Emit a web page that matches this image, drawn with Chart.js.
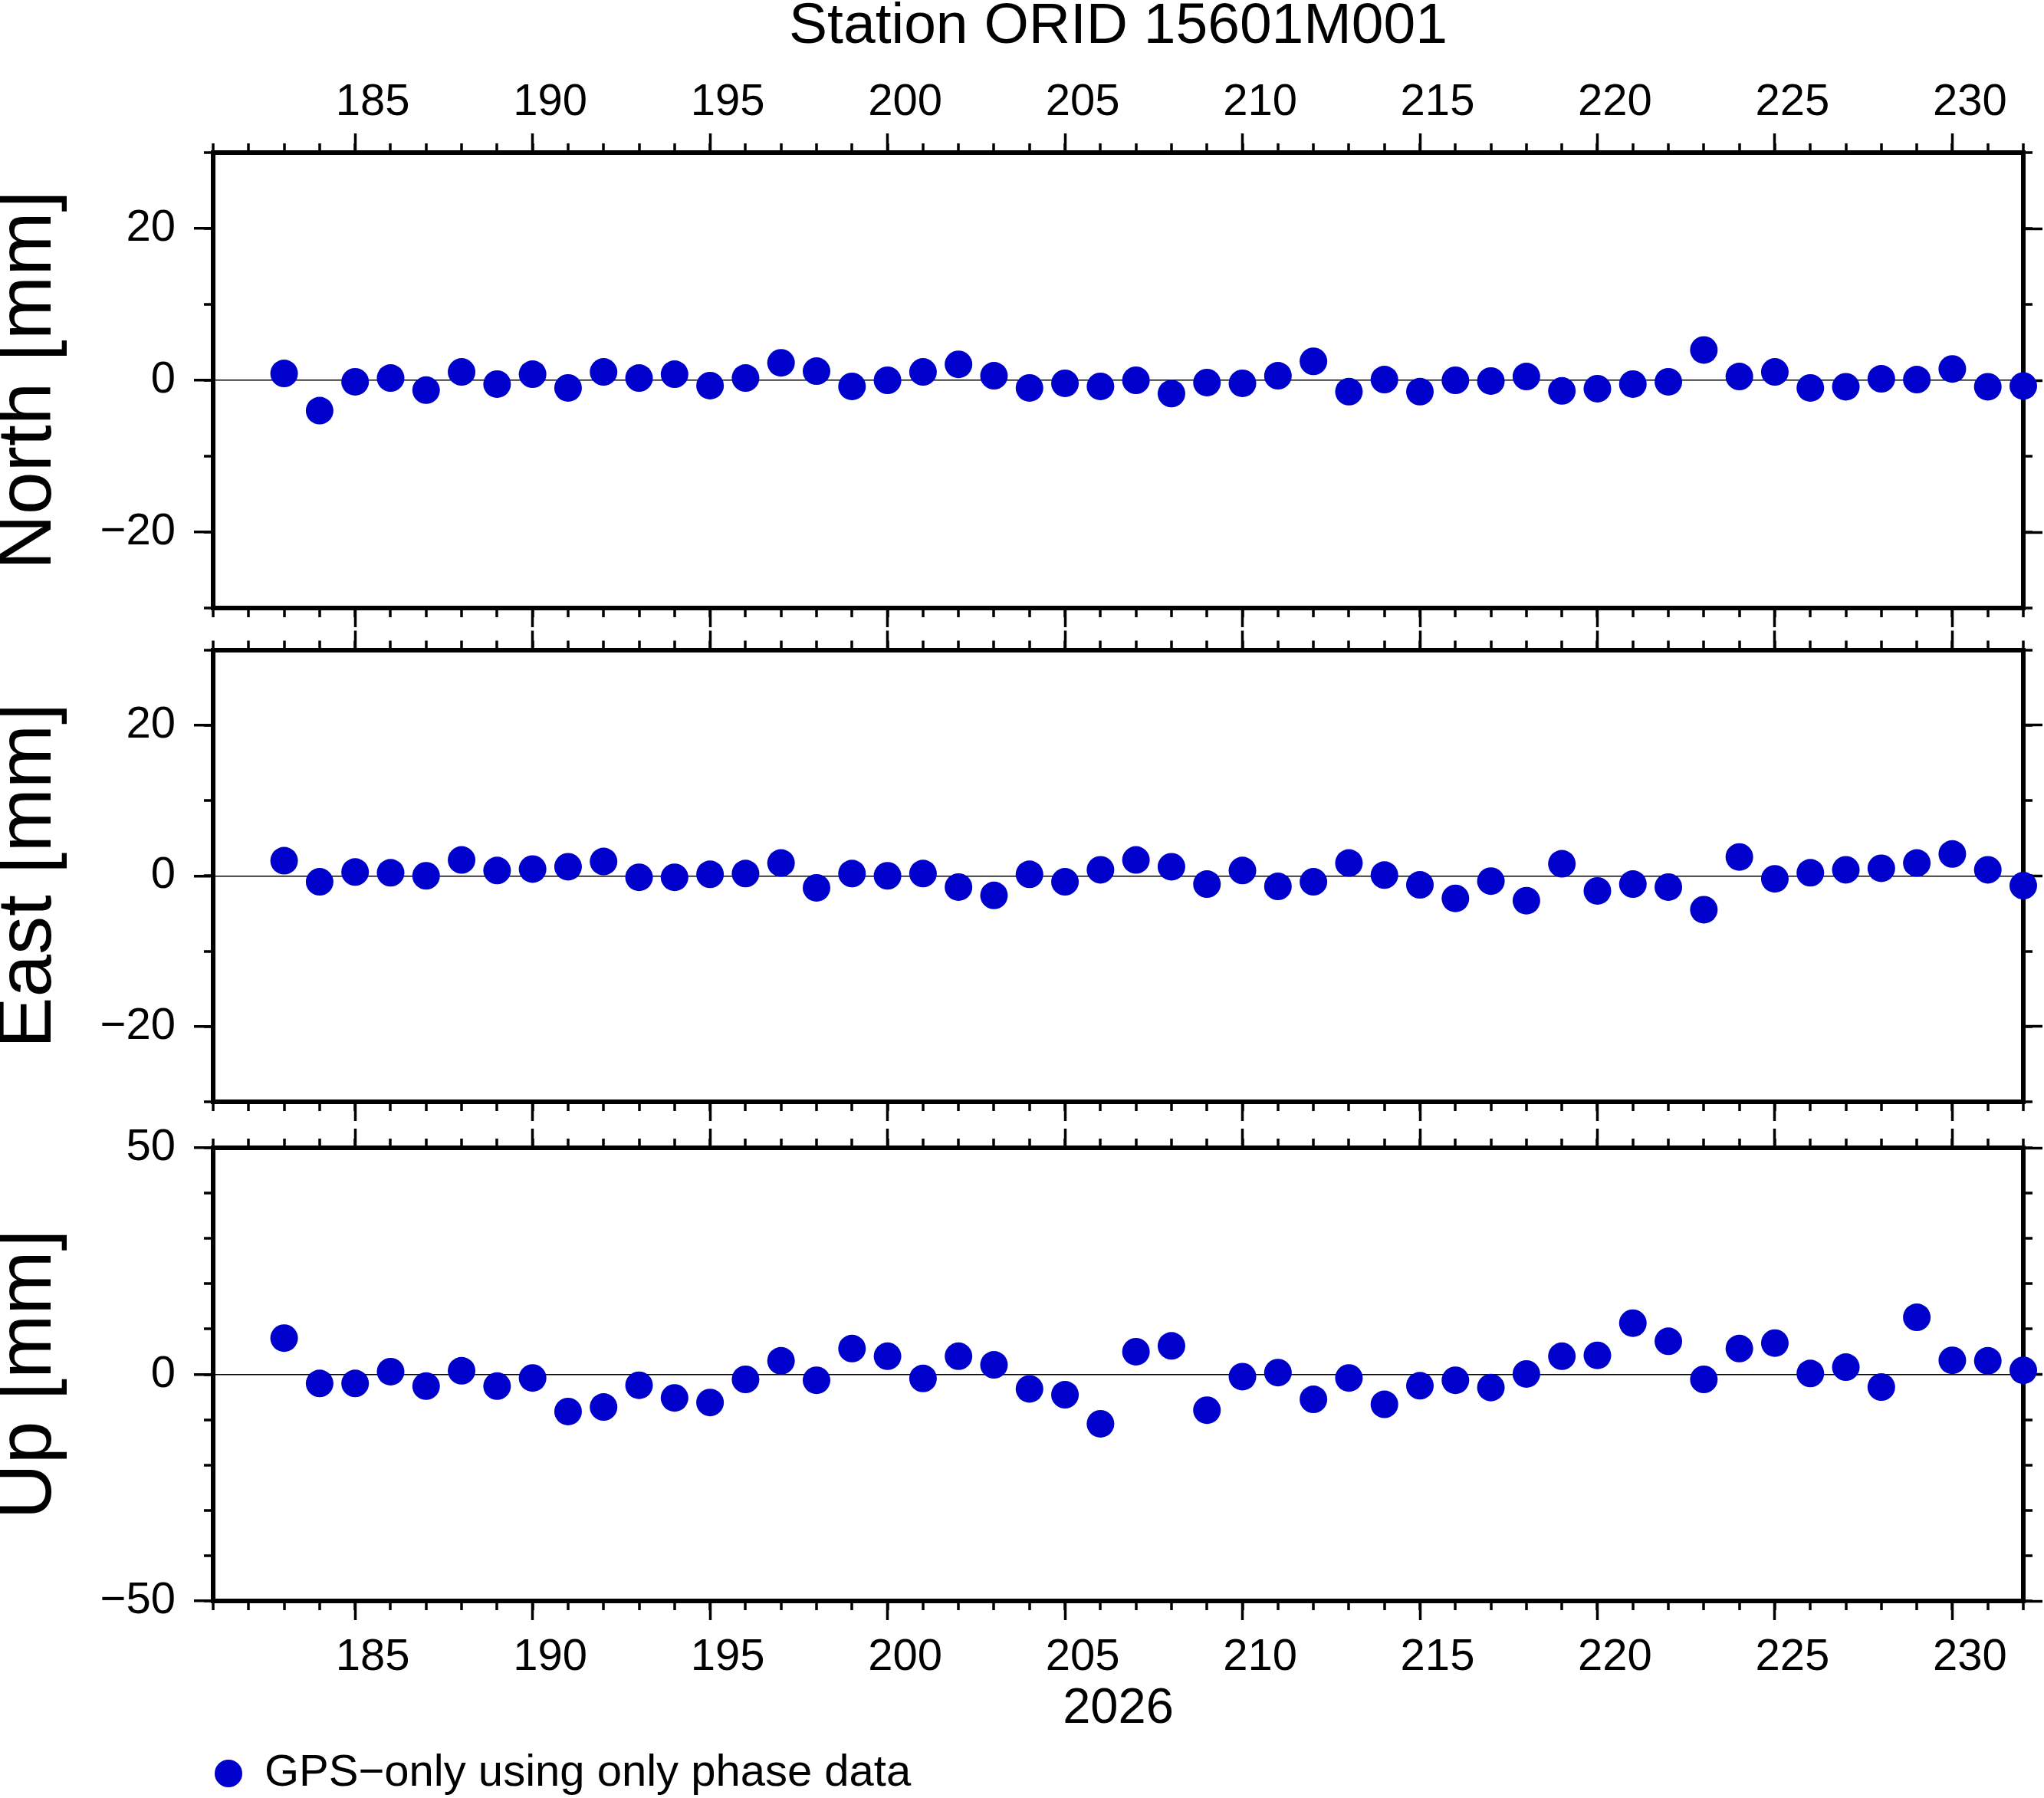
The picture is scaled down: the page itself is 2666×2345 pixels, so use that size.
<!DOCTYPE html>
<html>
<head>
<meta charset="utf-8">
<script src="https://cdn.jsdelivr.net/npm/chart.js@4/dist/chart.umd.min.js"></script>
<style>
  html, body { margin: 0; padding: 0; background: #ffffff; }
  #wrap { position: relative; width: 2666px; height: 2345px; background: #ffffff; overflow: hidden; }
  #wrap canvas { position: absolute; left: 0; top: 0; }
</style>
</head>
<body>
<div id="wrap">
  <canvas id="cNorth" width="2666" height="2345"></canvas>
  <canvas id="cEast" width="2666" height="2345"></canvas>
  <canvas id="cUp" width="2666" height="2345"></canvas>
</div>
<script>
// ---------------- data ----------------
const chartTitle = 'Station ORID 15601M001';
const legendLabel = 'GPS\u2212only using only phase data';
const xAxisTitle = '2026';

const days = [183,184,185,186,187,188,189,190,191,192,193,194,195,196,197,198,199,200,201,202,
              203,204,205,206,207,208,209,210,211,212,213,214,215,216,217,218,219,220,221,222,
              223,224,225,226,227,228,229,230,231,232];

const northValues = [0.9,-4.0,-0.2,0.3,-1.3,1.1,-0.5,0.8,-1.0,1.1,0.3,0.8,-0.7,0.3,2.3,1.2,-0.8,0.0,1.1,2.1,
                     0.6,-1.0,-0.4,-0.8,0.0,-1.75,-0.3,-0.4,0.6,2.5,-1.5,0.1,-1.5,0.0,-0.1,0.5,-1.4,-1.1,-0.5,-0.2,
                     4.0,0.5,1.1,-1.0,-0.85,0.2,0.1,1.5,-0.85,-0.75];

const eastValues = [2.0,-0.8,0.5,0.4,0.0,2.1,0.7,0.9,1.2,1.9,-0.2,-0.2,0.2,0.3,1.7,-1.6,0.3,0.0,0.3,-1.5,
                    -2.6,0.2,-0.8,0.8,2.1,1.2,-1.1,0.7,-1.4,-0.8,1.7,0.1,-1.2,-3.0,-0.7,-3.3,1.6,-2.0,-1.1,-1.5,
                    -4.5,2.5,-0.4,0.4,0.8,1.0,1.7,2.9,0.8,-1.3];

const upValues = [8.0,-2.0,-2.0,0.6,-2.6,0.8,-2.6,-0.8,-8.2,-7.2,-2.4,-5.2,-6.2,-1.1,3.0,-1.3,5.7,4.0,-0.9,4.0,
                  2.1,-3.2,-4.5,-10.9,5.0,6.3,-7.9,-0.5,0.4,-5.5,-0.8,-6.6,-2.5,-1.3,-2.9,0.1,4.0,4.2,11.3,7.3,
                  -1.1,5.7,6.9,0.2,1.6,-2.8,12.6,3.1,3.0,0.9];

const xMin = 181, xMax = 232;
const xMajorTicks = [185,190,195,200,205,210,215,220,225,230];

const neMajorTicks = [-20, 0, 20];
const neMinorTicks = [-30, -20, -10, 0, 10, 20, 30];
const upMajorTicks = [-50, 0, 50];
const upMinorTicks = [-50, -40, -30, -20, -10, 0, 10, 20, 30, 40, 50];

// ---------------- style ----------------
const FONT = "'Liberation Sans', Arial, Helvetica, sans-serif";
const DOT = '#0000cc';
const INK = '#000000';
const FRAME_W = 6;
const TICK_W = 3.5;
const MAJOR_LEN = 25;
const MINOR_LEN = 12;
const CANVAS_H = 2345;
const CANVAS_W = 2666;
const AREA_LEFT = 278;
const AREA_RIGHT = 2639;
const TITLE_SIZE = 75, TITLE_LH = 0.8, TITLE_PAD_TOP = 5;
const LEGEND_MAXH = 63;
const LEGEND_FONT = 58;
const X_LABEL_SHIFT = 23;   // labels sit in the middle of the day interval

function fmt(v) { return v < 0 ? '\u2212' + Math.abs(v) : String(v); }
function setTicks(arr) { return function (s) { s.ticks = arr.map(function (v) { return { value: v }; }); }; }
function fixW(w) { return function (s) { s.width = w; }; }
function fixH(h) { return function (s) { s.height = h; }; }

function panel(cfg) {
  const points = days.map(function (d, i) { return { x: d, y: cfg.values[i] }; });
  const titleH = cfg.showTitle ? TITLE_SIZE * TITLE_LH + TITLE_PAD_TOP : 0;
  const legendH = cfg.showLegend ? LEGEND_MAXH : 0;
  const tickFont = { family: FONT, size: 58 };

  const scales = {
    xt: {
      type: 'linear', position: 'top', weight: 1, min: xMin, max: xMax,
      afterBuildTicks: setTicks(xMajorTicks),
      afterFit: fixH(cfg.areaTop - titleH),
      border: { display: false },
      grid: { drawOnChartArea: false, drawTicks: true, tickLength: MAJOR_LEN, tickWidth: TICK_W, tickColor: INK, color: INK },
      ticks: { display: !!cfg.topLabels, autoSkip: false, maxRotation: 0, minRotation: 0, padding: 5,
               labelOffset: X_LABEL_SHIFT, font: tickFont, color: INK, callback: fmt }
    },
    xt2: {
      type: 'linear', position: 'top', weight: 0, min: xMin, max: xMax,
      afterFit: fixH(0),
      border: { display: true, width: FRAME_W, color: INK },
      grid: { drawOnChartArea: false, drawTicks: true, tickLength: MINOR_LEN, tickWidth: TICK_W, tickColor: INK, lineWidth: FRAME_W, color: INK },
      ticks: { display: false, stepSize: 1, autoSkip: false }
    },
    x: {
      type: 'linear', position: 'bottom', weight: 1, min: xMin, max: xMax,
      afterBuildTicks: setTicks(xMajorTicks),
      afterFit: fixH(CANVAS_H - cfg.areaBottom - legendH),
      border: { display: false },
      grid: { drawOnChartArea: false, drawTicks: true, tickLength: MAJOR_LEN, tickWidth: TICK_W, tickColor: INK, color: INK },
      ticks: { display: !!cfg.bottomLabels, autoSkip: false, maxRotation: 0, minRotation: 0, padding: 14,
               labelOffset: X_LABEL_SHIFT, font: tickFont, color: INK, callback: fmt },
      title: { display: !!cfg.showXTitle, text: xAxisTitle, color: INK,
               font: { family: FONT, size: 65, lineHeight: 1 }, padding: { top: 0, bottom: 20 } }
    },
    xb2: {
      type: 'linear', position: 'bottom', weight: 0, min: xMin, max: xMax,
      afterFit: fixH(0),
      border: { display: true, width: FRAME_W, color: INK },
      grid: { drawOnChartArea: false, drawTicks: true, tickLength: MINOR_LEN, tickWidth: TICK_W, tickColor: INK, lineWidth: FRAME_W, color: INK },
      ticks: { display: false, stepSize: 1, autoSkip: false }
    },
    y: {
      type: 'linear', position: 'left', weight: 1, min: cfg.yMin, max: cfg.yMax,
      afterBuildTicks: setTicks(cfg.yMajor),
      afterFit: fixW(AREA_LEFT),
      border: { display: false },
      grid: {
        drawOnChartArea: true, drawTicks: true, tickLength: MAJOR_LEN, tickWidth: TICK_W, tickColor: INK,
        lineWidth: 1.5,
        color: function (c) { return (c.tick && c.tick.value === 0) ? INK : 'rgba(0,0,0,0)'; }
      },
      ticks: { display: true, autoSkip: false, padding: 24, font: tickFont, color: INK, callback: fmt },
      title: { display: true, text: cfg.yTitle, color: INK,
               font: { family: FONT, size: 100, lineHeight: 0.76 }, padding: { top: 0, bottom: 0 } }
    },
    y2: {
      type: 'linear', position: 'left', weight: 0, min: cfg.yMin, max: cfg.yMax,
      afterBuildTicks: setTicks(cfg.yMinor),
      afterFit: fixW(0),
      border: { display: true, width: FRAME_W, color: INK },
      grid: { drawOnChartArea: false, drawTicks: true, tickLength: MINOR_LEN, tickWidth: TICK_W, tickColor: INK, lineWidth: FRAME_W, color: INK },
      ticks: { display: false }
    },
    yr: {
      type: 'linear', position: 'right', weight: 1, min: cfg.yMin, max: cfg.yMax,
      afterBuildTicks: setTicks(cfg.yMajor),
      afterFit: fixW(CANVAS_W - AREA_RIGHT),
      border: { display: false },
      grid: { drawOnChartArea: false, drawTicks: true, tickLength: MAJOR_LEN, tickWidth: TICK_W, tickColor: INK, color: INK },
      ticks: { display: false }
    },
    yr2: {
      type: 'linear', position: 'right', weight: 0, min: cfg.yMin, max: cfg.yMax,
      afterBuildTicks: setTicks(cfg.yMinor),
      afterFit: fixW(0),
      border: { display: true, width: FRAME_W, color: INK },
      grid: { drawOnChartArea: false, drawTicks: true, tickLength: MINOR_LEN, tickWidth: TICK_W, tickColor: INK, lineWidth: FRAME_W, color: INK },
      ticks: { display: false }
    }
  };

  return new Chart(document.getElementById(cfg.id), {
    type: 'scatter',
    data: {
      datasets: [{
        label: legendLabel,
        data: points,
        xAxisID: 'x', yAxisID: 'y',
        showLine: false,
        pointStyle: 'circle',
        pointRadius: 18, pointHoverRadius: 18,
        pointBackgroundColor: DOT, pointBorderColor: DOT, pointBorderWidth: 0,
        backgroundColor: DOT, borderColor: DOT, borderWidth: 0,
        clip: false
      }]
    },
    options: {
      responsive: false,
      animation: false,
      events: [],
      layout: { padding: 0 },
      scales: scales,
      plugins: {
        tooltip: { enabled: false },
        title: {
          display: !!cfg.showTitle, text: chartTitle, position: 'top', align: 'center', fullSize: false,
          color: INK, font: { family: FONT, size: TITLE_SIZE, weight: 'normal', lineHeight: TITLE_LH },
          padding: { top: TITLE_PAD_TOP, bottom: 0 }
        },
        legend: {
          display: !!cfg.showLegend, position: 'bottom', align: 'start', fullSize: false,
          maxHeight: LEGEND_MAXH,
          labels: {
            usePointStyle: true, boxWidth: 36, boxHeight: 25.5, padding: 2,
            color: INK, font: { family: FONT, size: LEGEND_FONT }
          }
        }
      }
    }
  });
}

panel({ id: 'cNorth', values: northValues, yMin: -30, yMax: 30, yMajor: neMajorTicks, yMinor: neMinorTicks,
        yTitle: 'North [mm]', areaTop: 199, areaBottom: 793, topLabels: true, bottomLabels: false,
        showTitle: true, showLegend: false, showXTitle: false });
panel({ id: 'cEast', values: eastValues, yMin: -30, yMax: 30, yMajor: neMajorTicks, yMinor: neMinorTicks,
        yTitle: 'East [mm]', areaTop: 847.5, areaBottom: 1437, topLabels: false, bottomLabels: false,
        showTitle: false, showLegend: false, showXTitle: false });
panel({ id: 'cUp', values: upValues, yMin: -50, yMax: 50, yMajor: upMajorTicks, yMinor: upMinorTicks,
        yTitle: 'Up [mm]', areaTop: 1497, areaBottom: 2088, topLabels: false, bottomLabels: true,
        showTitle: false, showLegend: true, showXTitle: true });
</script>
</body>
</html>
